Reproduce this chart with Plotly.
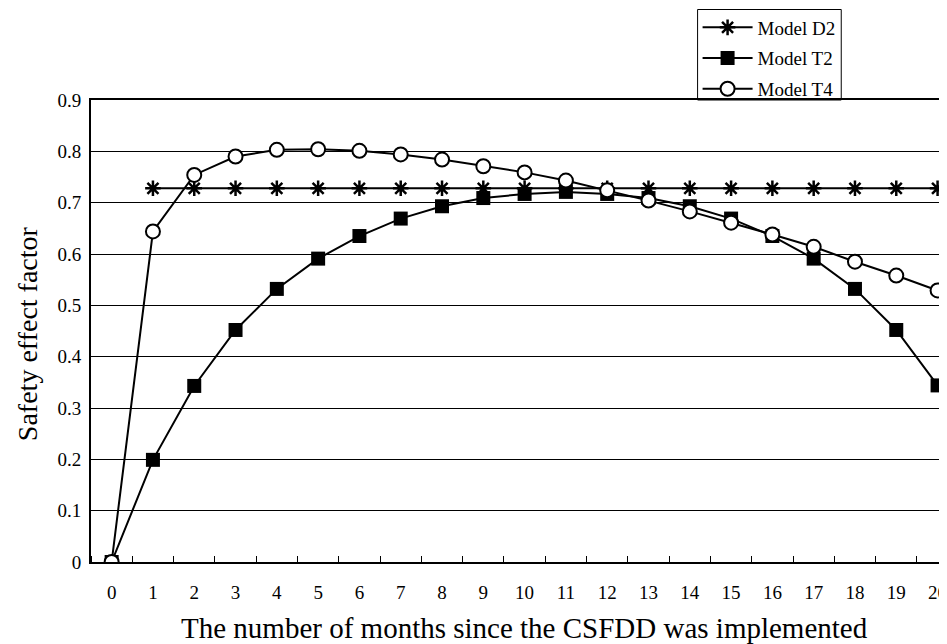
import plotly.graph_objects as go

months = list(range(0, 21))
months_d2 = list(range(1, 21))
d2 = [0.728] * 20
t2 = [0.0, 0.199, 0.343, 0.452, 0.532, 0.591, 0.635, 0.669, 0.693, 0.709, 0.717,
      0.721, 0.717, 0.709, 0.693, 0.669, 0.635, 0.591, 0.532, 0.452, 0.344]
t4 = [0.0, 0.644, 0.754, 0.790, 0.803, 0.804, 0.801, 0.794, 0.784, 0.771, 0.759,
      0.743, 0.724, 0.704, 0.683, 0.661, 0.638, 0.614, 0.585, 0.558, 0.529]
y_ticks = [0, 0.1, 0.2, 0.3, 0.4, 0.5, 0.6, 0.7, 0.8, 0.9]
y_tick_text = ["0", "0.1", "0.2", "0.3", "0.4", "0.5", "0.6", "0.7", "0.8", "0.9"]

FONT = "Liberation Serif, Times New Roman, serif"

# page has an 8px body margin; figure is sized/offset to compensate
W, H = 939, 636
ML, MT, MB = 83, 92, 82
PW = W - ML
PH = H - MT - MB

fig = go.Figure()
fig.add_trace(go.Scatter(
    x=months_d2, y=d2, name="Model D2", mode="lines+markers", legendgroup="a",
    line=dict(color="black", width=2),
    marker=dict(symbol="asterisk-open", size=13, color="black",
                line=dict(color="black", width=2.5)),
))
fig.add_trace(go.Scatter(
    x=months, y=t2, name="Model T2", mode="lines+markers", legendgroup="b",
    line=dict(color="black", width=2),
    marker=dict(symbol="square", size=14, color="black",
                line=dict(color="black", width=0)),
))
fig.add_trace(go.Scatter(
    x=months, y=t4, name="Model T4", mode="lines+markers", legendgroup="c",
    line=dict(color="black", width=2),
    marker=dict(symbol="circle", size=14, color="white",
                line=dict(color="black", width=2)),
))

fig.update_layout(
    width=W, height=H,
    margin=dict(l=ML, r=0, t=MT, b=MB, pad=0),
    paper_bgcolor="white", plot_bgcolor="white",
    font=dict(family=FONT, size=19, color="black"),
    showlegend=True,
    legend=dict(
        x=(699 - 91) / PW, y=1 + (MT - 0.5) / PH, xanchor="left", yanchor="top",
        bgcolor="rgba(0,0,0,0)", borderwidth=0,
        font=dict(family=FONT, size=19, color="black"),
        tracegroupgap=3, itemwidth=50,
    ),
    shapes=[
        dict(type="rect", xref="paper", yref="paper",
             x0=(699 - 91) / PW, x1=(843 - 91) / PW,
             y0=1, y1=1 + (MT - 1.5) / PH,
             line=dict(color="black", width=1), fillcolor="rgba(0,0,0,0)"),
    ],
    xaxis=dict(
        range=[-0.5, 20.18], tickmode="array", tickvals=months,
        ticktext=[str(m) for m in months],
        ticks="", showgrid=False, zeroline=False,
        showline=True, linecolor="black", linewidth=2, mirror=True,
        ticklabelstandoff=12, ticklabeloverflow="allow",
        tickfont=dict(family=FONT, size=19, color="black"),
        minor=dict(ticks="inside", tick0=0.5, dtick=1, ticklen=6,
                   tickwidth=1, tickcolor="black", showgrid=False),
    ),
    yaxis=dict(
        range=[0, 0.9], tickmode="array", tickvals=y_ticks, ticktext=y_tick_text,
        ticks="", showgrid=True, gridcolor="black", gridwidth=1,
        zeroline=False, showline=True, linecolor="black", linewidth=2,
        ticklabelstandoff=4,
        tickfont=dict(family=FONT, size=19, color="black"),
    ),
    annotations=[
        dict(text="The number of months since the CSFDD was implemented",
             xref="paper", yref="paper", x=(526 - 91) / PW, y=-(628 - 562) / PH,
             xanchor="center", yanchor="middle", showarrow=False,
             font=dict(family=FONT, size=29, color="black")),
        dict(text="Safety effect factor", textangle=-90,
             xref="paper", yref="paper", x=-(91 - 27) / PW, y=0.5 - (334 - 331) / PH,
             xanchor="center", yanchor="middle", showarrow=False,
             font=dict(family=FONT, size=28, color="black")),
    ],
)

fig.write_html("out.html")
